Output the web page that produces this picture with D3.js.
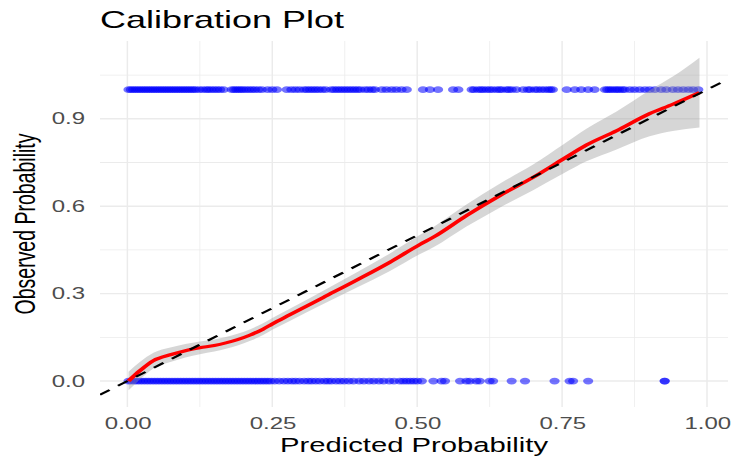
<!DOCTYPE html>
<html>
<head>
<meta charset="utf-8">
<script src="https://cdn.jsdelivr.net/npm/d3@7"></script>
<style>
  body { margin: 0; background: #fff; }
  svg { display: block; }
  text { font-family: "Liberation Sans", Arial, sans-serif; }
</style>
</head>
<body>
<svg id="canvas"></svg>
<script>
// observed = 1 (predicted probabilities of the positive cases)
let topX = [
  0.002, 0.006, 0.01, 0.014, 0.018, 0.022, 0.026, 0.03, 0.034, 0.038,
  0.042, 0.046, 0.05, 0.054, 0.058, 0.062, 0.066, 0.07, 0.074, 0.078,
  0.082, 0.086, 0.09, 0.094, 0.098, 0.102, 0.106, 0.11, 0.114, 0.118,
  0.124, 0.13, 0.136, 0.14, 0.145, 0.15, 0.155, 0.16, 0.166,
  0.18, 0.184, 0.188, 0.192, 0.196, 0.2, 0.205, 0.21, 0.215, 0.22, 0.226, 0.232, 0.242, 0.25, 0.258,
  0.275, 0.283, 0.29, 0.297, 0.305, 0.31, 0.315, 0.32, 0.325, 0.33, 0.336, 0.342,
  0.352, 0.357, 0.362, 0.367, 0.372, 0.377, 0.382, 0.387, 0.392, 0.397, 0.402,
  0.41, 0.416, 0.422, 0.427, 0.439, 0.447, 0.456, 0.464, 0.473, 0.482,
  0.51, 0.522, 0.536, 0.562, 0.571,
  0.594, 0.598, 0.605, 0.61, 0.614, 0.62, 0.625, 0.63, 0.637, 0.642, 0.646, 0.654, 0.658, 0.663, 0.671, 0.683, 0.691,
  0.695, 0.703, 0.708, 0.714, 0.72, 0.726, 0.73, 0.734,
  0.758, 0.772, 0.783, 0.795, 0.806,
  0.824, 0.828, 0.832, 0.836, 0.841, 0.845, 0.849, 0.854, 0.858,
  0.867, 0.875, 0.884, 0.893, 0.901, 0.91,
  0.921, 0.93, 0.941, 0.95, 0.959, 0.968, 0.976, 0.985
]

// observed = 0
let bottomX = [
  0.002, 0.007, 0.012, 0.017, 0.022, 0.027, 0.032, 0.037, 0.042, 0.047,
  0.052, 0.057, 0.062, 0.067, 0.072, 0.077, 0.082, 0.087, 0.092, 0.097,
  0.102, 0.107, 0.112, 0.117, 0.122, 0.127, 0.132, 0.137, 0.142, 0.147,
  0.152, 0.157, 0.162, 0.167, 0.172, 0.177, 0.182, 0.187, 0.192, 0.197,
  0.202, 0.207, 0.212, 0.217, 0.222, 0.227, 0.232, 0.237, 0.242, 0.247,
  0.254, 0.262, 0.27, 0.277, 0.284, 0.29, 0.297, 0.305, 0.312, 0.318,
  0.325, 0.332, 0.34, 0.346, 0.352, 0.36, 0.367, 0.374,
  0.382, 0.39, 0.4, 0.408, 0.417, 0.425, 0.434, 0.442, 0.452, 0.46, 0.47, 0.476, 0.482, 0.488, 0.494, 0.5,
  0.508, 0.528, 0.542, 0.548, 0.574, 0.585, 0.591, 0.602, 0.608, 0.625, 0.631,
  0.663, 0.686, 0.737, 0.763, 0.769, 0.795, 0.927, 0.927
]

// loess smooth and its confidence band
let smoothX = [0.002, 0.022, 0.045, 0.074, 0.1, 0.125, 0.15, 0.17, 0.19, 0.212, 0.234, 0.25, 0.281, 0.338, 0.396, 0.453, 0.505, 0.528, 0.585, 0.643, 0.7, 0.752, 0.792, 0.844, 0.901, 0.941, 0.987]
let smoothY = [0.0, 0.036, 0.07, 0.09, 0.104, 0.114, 0.122, 0.131, 0.142, 0.158, 0.178, 0.196, 0.228, 0.287, 0.347, 0.408, 0.469, 0.494, 0.568, 0.637, 0.699, 0.762, 0.81, 0.859, 0.918, 0.95, 0.99]
let bandLo = [-0.032, 0.006, 0.043, 0.065, 0.081, 0.092, 0.101, 0.111, 0.122, 0.138, 0.158, 0.176, 0.207, 0.264, 0.321, 0.378, 0.436, 0.459, 0.53, 0.596, 0.655, 0.712, 0.754, 0.795, 0.84, 0.858, 0.87]
let bandHi = [0.032, 0.066, 0.097, 0.115, 0.127, 0.136, 0.143, 0.151, 0.162, 0.178, 0.198, 0.216, 0.249, 0.31, 0.373, 0.438, 0.502, 0.529, 0.606, 0.678, 0.743, 0.812, 0.866, 0.925, 0.998, 1.045, 1.11]

let xTicks = [0, 0.25, 0.5, 0.75, 1]
let xMinor = [0.125, 0.375, 0.625, 0.875]
let yTicks = [0, 0.3, 0.6, 0.9]
let yMinor = [0.15, 0.45, 0.75, 1.05]

const width = 734
const height = 466
// the reference is stretched sideways, so draw in a narrower box and let the viewBox widen it
const stretch = 1.5
const vw = width / stretch

let canvas = d3.select("#canvas")
  .attr("width", width)
  .attr("height", height)
  .attr("viewBox", `0 0 ${vw} ${height}`)
  .attr("preserveAspectRatio", "none")

const panel = {left: 100 / stretch, right: 728 / stretch, top: 41, bottom: 407}

// ggplot style 5% expansion of the data range
let xExt = d3.extent(topX.concat(bottomX, smoothX))
let yExt = d3.extent([0, 1].concat(bandLo, bandHi))
let xPad = (xExt[1] - xExt[0]) * 0.05
let yPad = (yExt[1] - yExt[0]) * 0.05

let x = d3.scaleLinear().domain([xExt[0] - xPad, xExt[1] + xPad]).range([panel.left, panel.right])
let y = d3.scaleLinear().domain([yExt[0] - yPad, yExt[1] + yPad]).range([panel.bottom, panel.top])

// grid
let grid = canvas.append("g").attr("stroke", "#ebebeb")
grid.selectAll(".vminor").data(xMinor).enter().append("line")
  .attr("x1", d => x(d)).attr("x2", d => x(d))
  .attr("y1", panel.top).attr("y2", panel.bottom)
  .attr("stroke-width", 0.6)
grid.selectAll(".hminor").data(yMinor).enter().append("line")
  .attr("y1", d => y(d)).attr("y2", d => y(d))
  .attr("x1", panel.left).attr("x2", panel.right)
  .attr("stroke-width", 0.8)
grid.selectAll(".vmajor").data(xTicks).enter().append("line")
  .attr("x1", d => x(d)).attr("x2", d => x(d))
  .attr("y1", panel.top).attr("y2", panel.bottom)
  .attr("stroke-width", 1)
grid.selectAll(".hmajor").data(yTicks).enter().append("line")
  .attr("y1", d => y(d)).attr("y2", d => y(d))
  .attr("x1", panel.left).attr("x2", panel.right)
  .attr("stroke-width", 1.4)

let clip = canvas.append("clipPath").attr("id", "clip")
  .append("rect")
  .attr("x", panel.left).attr("y", panel.top)
  .attr("width", panel.right - panel.left).attr("height", panel.bottom - panel.top)

let plot = canvas.append("g").attr("clip-path", "url(#clip)")

// points
let points = topX.map(d => ({p: d, o: 1})).concat(bottomX.map(d => ({p: d, o: 0})))
plot.selectAll("circle")
  .data(points)
  .enter()
  .append("circle")
  .attr("cx", d => x(d.p))
  .attr("cy", d => y(d.o))
  .attr("r", 3.4)
  .attr("fill", "#0000ff")
  .attr("fill-opacity", 0.55)

// confidence band + smooth
let band = smoothX.map((d, i) => ({x: d, lo: bandLo[i], hi: bandHi[i], y: smoothY[i]}))

plot.append("path")
  .datum(band)
  .attr("fill", "#999999")
  .attr("fill-opacity", 0.4)
  .attr("d", d3.area().curve(d3.curveMonotoneX).x(d => x(d.x)).y0(d => y(d.lo)).y1(d => y(d.hi)))

plot.append("path")
  .datum(band)
  .attr("fill", "none")
  .attr("stroke", "#ff0000")
  .attr("stroke-width", 3.2)
  .attr("stroke-linejoin", "round")
  .attr("d", d3.line().curve(d3.curveMonotoneX).x(d => x(d.x)).y(d => y(d.y)))

// perfect calibration line
let xd = x.domain()
plot.append("line")
  .attr("x1", x(xd[0])).attr("y1", y(xd[0]))
  .attr("x2", x(xd[1])).attr("y2", y(xd[1]))
  .attr("stroke", "#000")
  .attr("stroke-width", 2)
  .attr("stroke-dasharray", "8,7")

// axes (labels only, theme_minimal has no axis lines)
let xAxis = canvas.append("g")
  .attr("transform", `translate(0,${panel.bottom})`)
  .call(d3.axisBottom(x).tickValues(xTicks).tickSize(0).tickPadding(10.5).tickFormat(d3.format(".2f")))
let yAxis = canvas.append("g")
  .attr("transform", `translate(${panel.left},0)`)
  .call(d3.axisLeft(y).tickValues(yTicks).tickSize(0).tickPadding(10).tickFormat(d3.format(".1f")))

canvas.selectAll(".domain").remove()
canvas.selectAll(".tick text")
  .attr("fill", "#4d4d4d")
  .style("font-size", "16px")
  .style("font-family", "'Liberation Sans', Arial, sans-serif")

canvas.append("text")
  .attr("x", (panel.left + panel.right) / 2)
  .attr("y", 452)
  .attr("text-anchor", "middle")
  .style("font-size", "19.5px")
  .attr("fill", "#000")
  .text("Predicted Probability")

canvas.append("text")
  .attr("transform", `translate(23.3,${(panel.top + panel.bottom) / 2}) rotate(-90)`)
  .attr("text-anchor", "middle")
  .style("font-size", "19.5px")
  .attr("fill", "#000")
  .text("Observed Probability")

canvas.append("text")
  .attr("x", panel.left)
  .attr("y", 28)
  .style("font-size", "24px")
  .attr("fill", "#000")
  .text("Calibration Plot")
</script>
</body>
</html>
